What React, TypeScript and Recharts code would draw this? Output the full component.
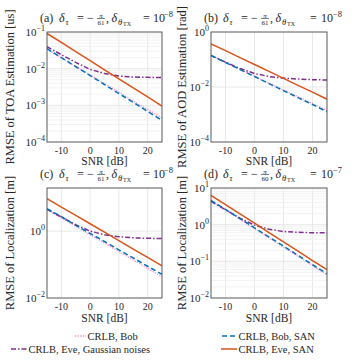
import React from "react";
import { LineChart, Line, XAxis, YAxis, CartesianGrid, ReferenceLine } from "recharts";

const snr = [-15, -10, -5, 0, 5, 10, 15, 20, 25];
const snrTicks = [-10, 0, 10, 20];

// (a) TOA estimation [us]
const toaBob = [0.034, 0.02, 0.0115, 0.0067, 0.0039, 0.0023, 0.0013, 0.00077, 0.00045];
const toaBobSan = [0.035, 0.02, 0.0114, 0.0065, 0.0037, 0.0021, 0.0012, 0.00068, 0.00039];
const toaEveGauss = [0.04, 0.024, 0.0148, 0.0096, 0.0074, 0.0063, 0.0059, 0.0058, 0.0057];
const toaEveSan = [0.091, 0.052, 0.029, 0.0165, 0.0093, 0.0053, 0.003, 0.0017, 0.00095];

// (b) AOD estimation [rad]
const aodBob = [0.14, 0.079, 0.044, 0.025, 0.0138, 0.0078, 0.0044, 0.0025, 0.0014];
const aodBobSan = [0.14, 0.078, 0.043, 0.024, 0.0132, 0.0074, 0.0041, 0.0023, 0.00126];
const aodEveGauss = [0.14, 0.08, 0.047, 0.031, 0.024, 0.021, 0.0195, 0.0185, 0.018];
const aodEveSan = [0.37, 0.21, 0.117, 0.066, 0.037, 0.0205, 0.0115, 0.0065, 0.0036];

// (c) localization [m]
const locBob = [4.4, 2.5, 1.4, 0.78, 0.44, 0.245, 0.138, 0.077, 0.043];
const locBobSan = [4.7, 2.7, 1.5, 0.85, 0.49, 0.275, 0.158, 0.089, 0.051];
const locEveGauss = [4.5, 2.65, 1.55, 1.0, 0.78, 0.68, 0.63, 0.61, 0.6];
const locEveSan = [9.3, 5.2, 2.95, 1.66, 0.93, 0.52, 0.29, 0.164, 0.091];

// (d) localization [m], other mismatch
const loc2Bob = [4.4, 2.5, 1.4, 0.78, 0.44, 0.245, 0.137, 0.077, 0.042];
const loc2BobSan = [4.6, 2.6, 1.46, 0.82, 0.46, 0.26, 0.145, 0.081, 0.046];
const loc2EveGauss = [4.3, 2.55, 1.5, 0.97, 0.75, 0.65, 0.62, 0.6, 0.6];
const loc2EveSan = [6.3, 3.5, 1.96, 1.1, 0.61, 0.34, 0.19, 0.105, 0.059];

const minorA = [2, 3, 4, 5, 6, 7, 8, 9].flatMap((m) => [m * 1e-4, m * 1e-3, m * 1e-2]);
const minorD = [2, 3, 4, 5, 6, 7, 8, 9].flatMap((m) => [m * 1e-2, m * 1e-1, m * 1]);

const SERIF = "Liberation Serif, serif";
const INK = "#262626";

const series = [
  { key: "bob", name: "CRLB, Bob", color: "#f38fcf", dash: "1.3 1.3", width: 1.3 },
  { key: "eveGauss", name: "CRLB, Eve, Gaussian noises", color: "#7E2F8E", dash: "5 2 1.5 2", width: 1.5 },
  { key: "bobSan", name: "CRLB, Bob, SAN", color: "#0072BD", dash: "5 3", width: 1.5 },
  { key: "eveSan", name: "CRLB, Eve, SAN", color: "#D95319", dash: undefined, width: 1.5 },
];

function rows(bob: number[], eveGauss: number[], bobSan: number[], eveSan: number[]) {
  return snr.map((s, i) => ({ snr: s, bob: bob[i], eveGauss: eveGauss[i], bobSan: bobSan[i], eveSan: eveSan[i] }));
}

const YW = 40;
const MT = 14;
const MR = 4;
const XH = 30;

function XTick(props: any) {
  const { x, y, payload } = props;
  return (
    <text x={x} y={y + 10} textAnchor="middle" fontFamily={SERIF} fontSize={10} fill={INK}>
      {payload.value}
    </text>
  );
}

function YTick(props: any) {
  const { x, y, payload } = props;
  const e = Math.round(Math.log10(payload.value));
  return (
    <text x={x} y={y + 4} textAnchor="end" fontFamily={SERIF} fill={INK}>
      <tspan fontSize={11}>10</tspan>
      <tspan fontSize={8} dy={-5}>{e < 0 ? "\u2212" + -e : String(e)}</tspan>
    </text>
  );
}

type Plot = { x: number; y: number; w: number; h: number };

function Panel({ plot, data, yDomain, yTicks, minor }: { plot: Plot; data: any[]; yDomain: number[]; yTicks: number[]; minor: number[] }) {
  return (
    <div style={{ position: "absolute", left: plot.x - YW, top: plot.y - MT }}>
      <LineChart width={YW + plot.w + MR} height={MT + plot.h + XH} data={data} margin={{ top: MT, right: MR, left: 0, bottom: 0 }}>
        {minor.map((v) => (
          <ReferenceLine key={v} y={v} stroke="#efefef" strokeWidth={0.8} ifOverflow="hidden" />
        ))}
        <CartesianGrid stroke="#e2e2e2" strokeWidth={0.8} />
        <XAxis
          type="number"
          dataKey="snr"
          domain={[-15, 25]}
          ticks={snrTicks}
          interval={0}
          height={XH}
          tickSize={0}
          tickLine={false}
          axisLine={false}
          tick={<XTick />}
          allowDataOverflow
        />
        <YAxis
          type="number"
          scale="log"
          domain={yDomain}
          ticks={yTicks}
          interval={0}
          width={YW}
          tickSize={0}
          tickMargin={2}
          tickLine={false}
          axisLine={false}
          tick={<YTick />}
          allowDataOverflow
        />
        {series.map((s) => (
          <Line
            key={s.key}
            type="linear"
            dataKey={s.key}
            stroke={s.color}
            strokeWidth={s.width}
            strokeDasharray={s.dash}
            dot={false}
            activeDot={false}
            isAnimationActive={false}
          />
        ))}
      </LineChart>
    </div>
  );
}

function Title({ x0, y0, letter, den, exp, wide }: { x0: number; y0: number; letter: string; den: string; exp: string; wide: boolean }) {
  const t = { fontFamily: SERIF, fill: INK };
  const tenX = wide ? 117 : 113;
  const supX = wide ? 129 : 124;
  const eqX = wide ? 106 : 103;
  return (
    <g>
      <text x={x0} y={y0} fontSize={12} {...t}>({letter})</text>
      <text x={x0 + 19} y={y0} fontSize={12} fontStyle="italic" {...t}>δ</text>
      <text x={x0 + 25.5} y={y0 + 3} fontSize={8.5} fontStyle="italic" {...t}>τ</text>
      <text x={x0 + 37} y={y0} fontSize={12} {...t}>=</text>
      <text x={x0 + 47} y={y0} fontSize={12} {...t}>−</text>
      <text x={x0 + 61} y={y0 - 4} fontSize={7} fontStyle="italic" textAnchor="middle" {...t}>π</text>
      <line x1={x0 + 57} x2={x0 + 65} y1={y0 - 3} y2={y0 - 3} stroke={INK} strokeWidth={0.6} />
      <text x={x0 + 61} y={y0 + 3.6} fontSize={7} textAnchor="middle" {...t}>{den}</text>
      <text x={x0 + 66} y={y0} fontSize={12} {...t}>,</text>
      <text x={x0 + 71.5} y={y0} fontSize={12} fontStyle="italic" {...t}>δ</text>
      <text x={x0 + 78} y={y0 + 3} fontSize={8.5} fontStyle="italic" {...t}>θ</text>
      <text x={x0 + 83} y={y0 + 4.8} fontSize={6} {...t}>TX</text>
      <text x={x0 + eqX} y={y0} fontSize={12} {...t}>=</text>
      <text x={x0 + tenX} y={y0} fontSize={12} {...t}>10</text>
      <text x={x0 + supX} y={y0 - 5} fontSize={8.5} {...t}>{exp}</text>
    </g>
  );
}

const plotA: Plot = { x: 47, y: 32, w: 115, h: 110 };
const plotB: Plot = { x: 211, y: 32, w: 116, h: 110 };
const plotC: Plot = { x: 47, y: 188, w: 115, h: 110 };
const plotD: Plot = { x: 211, y: 188, w: 116, h: 110 };

const panels = [
  { plot: plotA, letter: "a", den: "61", exp: "−8", ylabel: "RMSE of TOA Estimation [us]", xlab: 23 },
  { plot: plotB, letter: "b", den: "61", exp: "−8", ylabel: "RMSE of AOD Estimation [rad]", xlab: 23 },
  { plot: plotC, letter: "c", den: "61", exp: "−8", ylabel: "RMSE of Localization [m]", xlab: 23.5 },
  { plot: plotD, letter: "d", den: "60", exp: "−7", ylabel: "RMSE of Localization [m]", xlab: 23.5 },
];

export default function App() {
  return (
    <div style={{ position: "absolute", left: 0, top: 0, width: 357, height: 361, background: "#fff", overflow: "hidden" }}>
      <Panel plot={plotA} data={rows(toaBob, toaEveGauss, toaBobSan, toaEveSan)} yDomain={[1e-4, 1e-1]} yTicks={[1e-4, 1e-3, 1e-2, 1e-1]} minor={minorA} />
      <Panel plot={plotB} data={rows(aodBob, aodEveGauss, aodBobSan, aodEveSan)} yDomain={[1e-4, 1]} yTicks={[1e-4, 1e-2, 1]} minor={[]} />
      <Panel plot={plotC} data={rows(locBob, locEveGauss, locBobSan, locEveSan)} yDomain={[1e-2, 19.5]} yTicks={[1e-2, 1]} minor={[]} />
      <Panel plot={plotD} data={rows(loc2Bob, loc2EveGauss, loc2BobSan, loc2EveSan)} yDomain={[1e-2, 10]} yTicks={[1e-2, 1e-1, 1, 10]} minor={minorD} />

      <svg width={357} height={361} style={{ position: "absolute", left: 0, top: 0, pointerEvents: "none" }}>
        {panels.map((p) => {
          const left = p.plot.x < 100;
          const cy = p.plot.y + p.plot.h / 2;
          const lx = left ? 13.5 : 186;
          return (
            <g key={p.letter}>
              <rect x={p.plot.x} y={p.plot.y} width={p.plot.w} height={p.plot.h} fill="none" stroke="#555" strokeWidth={0.9} />
              <Title x0={left ? 40 : 204} y0={p.plot.y - 10.5} letter={p.letter} den={p.den} exp={p.exp} wide={!left} />
              <text x={lx} y={cy} transform={`rotate(-90 ${lx} ${cy})`} textAnchor="middle" fontFamily={SERIF} fontSize={12.5} fill={INK}>
                {p.ylabel}
              </text>
              <text x={p.plot.x + p.plot.w / 2} y={p.plot.y + p.plot.h + p.xlab} textAnchor="middle" fontFamily={SERIF} fontSize={11.5} fill={INK}>
                SNR [dB]
              </text>
            </g>
          );
        })}

        {[
          { s: series[0], x1: 75, x2: 86, y: 336 },
          { s: series[1], x1: 11, x2: 27, y: 349 },
          { s: series[2], x1: 222, x2: 237, y: 336 },
          { s: series[3], x1: 221, x2: 237, y: 349 },
        ].map(({ s, x1, x2, y }) => (
          <g key={s.key}>
            <line x1={x1} x2={x2} y1={y} y2={y} stroke={s.color} strokeWidth={s.width} strokeDasharray={s.dash} />
            <text x={x2 + 1.5} y={y + 3.5} fontFamily={SERIF} fontSize={10.5} fill={INK}>
              {s.name}
            </text>
          </g>
        ))}
      </svg>
    </div>
  );
}
